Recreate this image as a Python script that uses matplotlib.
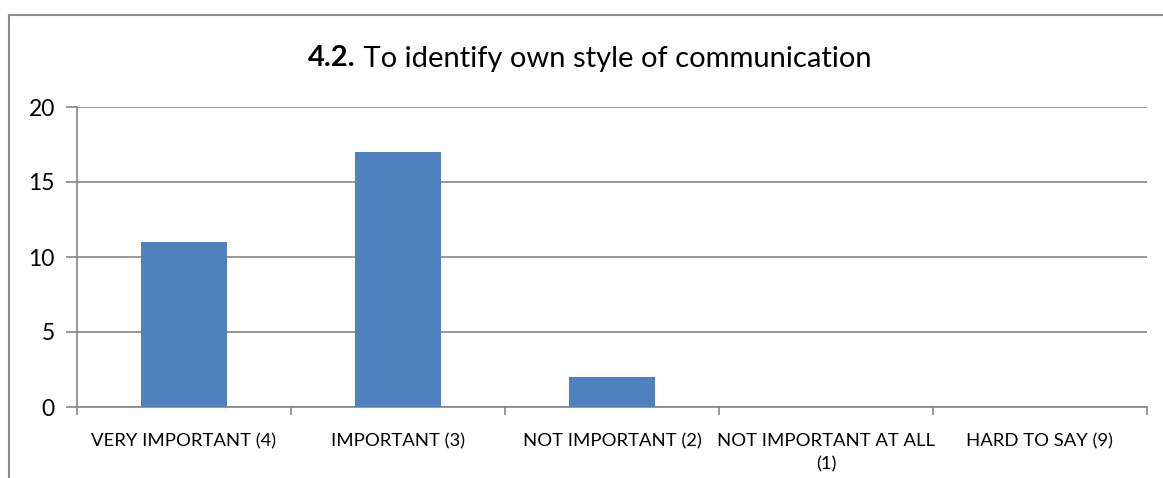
import matplotlib.pyplot as plt
import numpy as np

plt.rcParams['font.family'] = ['Lato', 'DejaVu Sans']

categories = ['VERY IMPORTANT (4)', 'IMPORTANT (3)', 'NOT IMPORTANT (2)',
              'NOT IMPORTANT AT ALL\n(1)', 'HARD TO SAY (9)']
values = [11, 17, 2, 0, 0]
yticks = [0, 5, 10, 15, 20]

W, H = 1163, 478
fig = plt.figure(figsize=(W / 100, H / 100), dpi=100)
ax = fig.add_axes([77 / W, 1 - 407 / H, (1147 - 77) / W, 300 / H])

grid_c = '#868686'
x = np.arange(len(categories))
ax.bar(x, values, width=0.4, color='#4f81bd', zorder=3)

ax.set_xlim(-0.5, len(categories) - 0.5)
ax.set_ylim(0, 20)
ax.set_yticks(yticks)
ax.yaxis.grid(True, color=grid_c, linewidth=1.2, zorder=0)
ax.tick_params(axis='y', length=8, color=grid_c, width=1.2, labelsize=16.5, pad=8)

# category ticks sit between the bars
ax.set_xticks(x)
ax.set_xticklabels(categories, fontsize=13.3, linespacing=1.55)
ax.tick_params(axis='x', length=0, pad=19)
ax.set_xticks(np.arange(len(categories) + 1) - 0.5, minor=True)
ax.tick_params(axis='x', which='minor', length=6, color=grid_c, width=1.2)

for s in ['top', 'right']:
    ax.spines[s].set_visible(False)
for s in ['left', 'bottom']:
    ax.spines[s].set_color(grid_c)
    ax.spines[s].set_linewidth(1.2)

# chart frame (only partly in view)
fx = 8.5 / W
fy = 1 - 14.5 / H
fig.add_artist(plt.Line2D([fx, fx], [0, fy], color='#8c8c8c', lw=1.5))
fig.add_artist(plt.Line2D([fx, 1], [fy, fy], color='#8c8c8c', lw=1.5))

# title: bold number followed by normal text, centred as one line
ty = 1 - 58.5 / H
t1 = fig.text(0, ty, '4.2.', fontsize=21, fontweight='bold', va='center')
t2 = fig.text(0, ty, ' To identify own style of communication', fontsize=21, va='center')
fig.canvas.draw()
r = fig.canvas.get_renderer()
w1 = t1.get_window_extent(r).width / W
w2 = t2.get_window_extent(r).width / W
x0 = 590 / W - (w1 + w2) / 2
t1.set_x(x0)
t2.set_x(x0 + w1)

plt.savefig('out.png', dpi=100)
